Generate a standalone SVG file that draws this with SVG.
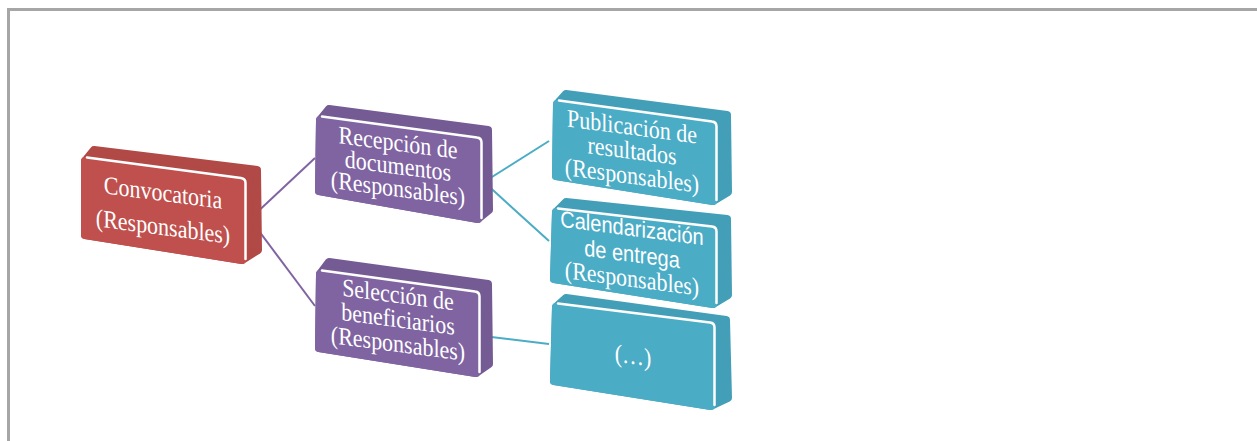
<svg xmlns="http://www.w3.org/2000/svg" width="1257" height="441" viewBox="0 0 1257 441">
<style>
.slab{stroke-width:8;stroke-linejoin:round}
.face{stroke-width:8;stroke-linejoin:round}
.hl{fill:none;stroke:#ffffff;stroke-width:2.5;stroke-linecap:round;stroke-linejoin:round}
.red .slab{fill:#B14946;stroke:#B14946}
.red .face{fill:#C0504D;stroke:#C0504D}
.pur .slab{fill:#755B93;stroke:#755B93}
.pur .face{fill:#8064A2;stroke:#8064A2}
.tea .slab{fill:#439FB8;stroke:#439FB8}
.tea .face{fill:#4BACC6;stroke:#4BACC6}
.t{font-family:"Liberation Serif","Times New Roman",serif;font-size:22px;fill:#ffffff;text-anchor:middle}
.s{font-family:"Liberation Sans",Arial,sans-serif;font-size:20px;fill:#ffffff;text-anchor:middle}
.con{fill:none;stroke-width:2}
</style>
<g id="frame" fill="none" stroke="#A6A6A6" stroke-width="3">
<line x1="7" y1="9.5" x2="1257" y2="9.5"/>
<line x1="8.5" y1="8" x2="8.5" y2="441"/>
</g>
<g id="connectors">
<line class="con" stroke="#8064A2" x1="250" y1="219" x2="315" y2="158"/>
<line class="con" stroke="#8064A2" x1="250" y1="219" x2="315" y2="306"/>
<line class="con" stroke="#4BACC6" x1="484" y1="182" x2="549" y2="141"/>
<line class="con" stroke="#4BACC6" x1="484" y1="182" x2="549" y2="241"/>
<line class="con" stroke="#4BACC6" x1="483" y1="336" x2="549" y2="344"/>
</g>
<g id="convocatoria" class="red">
<polygon class="slab" points="85,161 94,150 257,170 258,250 242,260 85,235"/>
<polygon class="face" points="85,161 242,182 242,260 85,235"/>
<path class="hl" d="M87,157.5 L241,178 Q245.5,178.6 245.5,183 L245.5,259"/>
<g transform="matrix(1,0.13,0,1.15,163,201)">
<text class="t" x="0" y="0">Convocatoria</text>
<text class="t" x="0" y="29.6">(Responsables)</text>
</g>
</g>
<g id="recepcion" class="pur">
<polygon class="slab" points="320,120 329,109 488,130 489,210 478,219 319,191"/>
<polygon class="face" points="320,120 478,142 478,219 319,191"/>
<path class="hl" d="M322,116.5 L477,137.5 Q481.5,138 481.5,142.5 L481.5,218"/>
<g transform="matrix(1,0.13,0,1.15,398,151)">
<text class="t" x="0" y="0">Recepción de</text>
<text class="t" x="0" y="20.2">documentos</text>
<text class="t" x="0" y="39.8">(Responsables)</text>
</g>
</g>
<g id="seleccion" class="pur">
<polygon class="slab" points="320,274 329,262 488,284 489,364 476,373 319,348"/>
<polygon class="face" points="320,274 476,296 476,373 319,348"/>
<path class="hl" d="M322,270.5 L475,291.5 Q479.5,292 479.5,296.5 L479.5,372"/>
<g transform="matrix(1,0.13,0,1.15,398,303)">
<text class="t" x="0" y="0">Selección de</text>
<text class="t" x="0" y="21.2">beneficiarios</text>
<text class="t" x="0" y="42.6">(Responsables)</text>
</g>
</g>
<g id="publicacion" class="tea">
<polygon class="slab" points="557,104 566,94 727,115 728,192 713,201 556,176"/>
<polygon class="face" points="557,104 713,126 713,201 556,176"/>
<path class="hl" d="M559,100.5 L712,121.5 Q716.5,122 716.5,126.5 L716.5,200"/>
<g transform="matrix(1,0.13,0,1.15,632,135)">
<text class="t" x="0" y="0">Publicación de</text>
<text class="t" x="0" y="20.9">resultados</text>
<text class="t" x="0" y="42.6">(Responsables)</text>
</g>
</g>
<g id="calendarizacion" class="tea">
<polygon class="slab" points="556,212 566,202 727,219 728,295 713,304 554,279"/>
<polygon class="face" points="556,212 713,231 713,304 554,279"/>
<path class="hl" d="M558,208.5 L712,226.5 Q716.5,227 716.5,231.5 L716.5,303"/>
<g transform="matrix(1,0.13,0,1.15,632,236)">
<text class="s" x="0" y="0">Calendarización</text>
<text class="s" x="0" y="22.6">de entrega</text>
<text class="t" x="0" y="44.3">(Responsables)</text>
</g>
</g>
<g id="etc" class="tea">
<polygon class="slab" points="556,307 566,298 726,320 728,398 711,406 554,381"/>
<polygon class="face" points="556,307 711,327 711,406 554,381"/>
<path class="hl" d="M558,303.5 L710,322.5 Q714.5,323 714.5,327.5 L714.5,405"/>
<g transform="matrix(1,0.13,0,1.15,633,364)">
<text class="t" x="0" y="0">(…)</text>
</g>
</g>
</svg>
